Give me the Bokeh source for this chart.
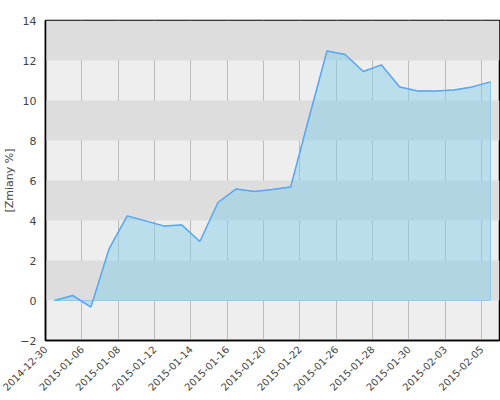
import math
from bokeh.plotting import figure
from bokeh.models import FixedTicker
from bokeh.embed import file_html
from bokeh.resources import INLINE

dates = ["2014-12-30", "2015-01-02", "2015-01-06", "2015-01-07", "2015-01-08",
         "2015-01-09", "2015-01-12", "2015-01-13", "2015-01-14", "2015-01-15",
         "2015-01-16", "2015-01-19", "2015-01-20", "2015-01-21", "2015-01-22",
         "2015-01-23", "2015-01-26", "2015-01-27", "2015-01-28", "2015-01-29",
         "2015-01-30", "2015-02-02", "2015-02-03", "2015-02-04", "2015-02-05"]
changes = [0.0, 0.25, -0.33, 2.58, 4.23, 3.98, 3.73, 3.78, 2.95, 4.9,
           5.58, 5.45, 5.55, 5.68, 9.1, 12.48, 12.3, 11.45, 11.78, 10.68,
           10.48, 10.48, 10.53, 10.68, 10.93]
y_ticks = [-2, 0, 2, 4, 6, 8, 10, 12, 14]
y_label = "[Zmiany %]"

n = len(dates)
xs = [i + 0.5 for i in range(n)]
label_idx = list(range(0, n, 2))

p = figure(frame_width=454, frame_height=320, output_backend="svg", toolbar_location=None,
           x_range=(0, n), y_range=(-2, 14),
           min_border_left=37, min_border_right=1, min_border_top=20, min_border_bottom=52)
p.background_fill_color = "#eeeeee"
p.border_fill_color = "white"
p.outline_line_color = "black"
p.outline_line_width = 1.5

# area polygon
px = [xs[0]] + xs + [xs[-1]]
py = [0] + changes + [0]
p.patch(px, py, fill_color="skyblue", fill_alpha=0.5, line_color="#88ccee", line_width=1)
p.line(xs, changes, line_color="#5aa6f0", line_width=1.5)

# axes
p.yaxis.ticker = FixedTicker(ticks=y_ticks)
p.xaxis.ticker = FixedTicker(ticks=label_idx)
p.xaxis.major_label_overrides = {i: dates[i] for i in label_idx}
p.xaxis.major_label_orientation = math.pi / 4
for ax in (p.xaxis, p.yaxis):
    ax.major_tick_line_color = None
    ax.minor_tick_line_color = None
    ax.major_tick_out = 0
    ax.major_tick_in = 0
    ax.major_label_text_font = "DejaVu Sans"
    ax.major_label_text_color = "#444444"
    ax.axis_line_color = "black"
    ax.axis_line_width = 1.5
p.yaxis.major_label_text_font_size = "11px"
p.xaxis.major_label_text_font_size = "10px"
p.yaxis.major_label_standoff = 9
p.xaxis.major_label_standoff = 7
p.yaxis.axis_label = y_label
p.yaxis.axis_label_text_font = "DejaVu Sans"
p.yaxis.axis_label_text_font_size = "11px"
p.yaxis.axis_label_text_font_style = "normal"
p.yaxis.axis_label_text_color = "#444444"
p.yaxis.axis_label_standoff = 1

# grids
p.ygrid.ticker = FixedTicker(ticks=y_ticks)
p.ygrid.grid_line_color = None
p.ygrid.band_fill_color = "#dddddd"
p.ygrid.band_fill_alpha = 1.0
p.xgrid.ticker = FixedTicker(ticks=label_idx)
p.xgrid.grid_line_color = "#bbbbbb"
p.xgrid.grid_line_width = 1

open("out.html", "w").write(file_html(p, INLINE))
